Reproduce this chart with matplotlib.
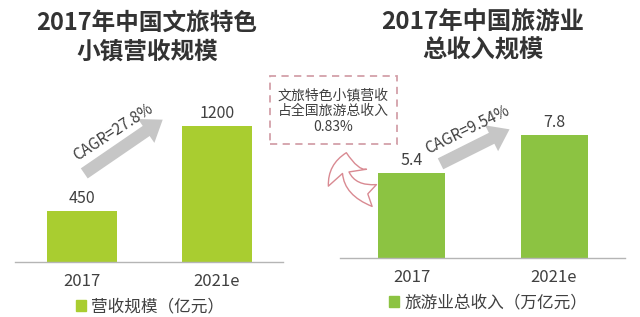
import matplotlib
matplotlib.use('Agg')
import matplotlib.pyplot as plt
from matplotlib.patches import Patch, Rectangle, FancyArrowPatch

plt.rcParams['font.family'] = ['Noto Sans CJK SC', 'DejaVu Sans']

# 数据
years = ['2017', '2021e']
town_rev = [450, 1200]          # 文旅特色小镇营收规模 (亿元)
tour_rev = [5.4, 7.8]           # 旅游业总收入 (万亿元)
town_lbl = ['450', '1200']
tour_lbl = ['5.4', '7.8']
title_l = '2017年中国文旅特色\n小镇营收规模'
title_r = '2017年中国旅游业\n总收入规模'
legend_l = '营收规模（亿元）'
legend_r = '旅游业总收入（万亿元）'
cagr_l = 'CAGR=27.8%'
cagr_r = 'CAGR=9.54%'
note = '文旅特色小镇营收\n占全国旅游总收入\n0.83%'

W, H = 640, 317
c_l = '#a9cd30'
c_r = '#8cc342'
txt = '#404040'
arrow_gray = '#c6c6c6'

fig = plt.figure(figsize=(W / 100, H / 100), dpi=100)
fig.patch.set_facecolor('white')

ax1 = fig.add_axes([15 / W, (H - 262) / H, 268 / W, 200 / H])
ax2 = fig.add_axes([340 / W, (H - 258) / H, 285 / W, 200 / H])

def style(ax):
    for s in ['top', 'right', 'left']:
        ax.spines[s].set_visible(False)
    ax.spines['bottom'].set_color('#b5b5b5')
    ax.spines['bottom'].set_linewidth(1.0)
    ax.set_yticks([])
    ax.tick_params(axis='x', length=0, pad=8, labelsize=12, labelcolor=txt)
    ax.set_facecolor('none')

# 左图
x = range(len(years))
ax1.bar(x, town_rev, width=0.52, color=c_l)
ax1.set_xlim(-0.496, 1.489)
ax1.set_ylim(0, 1765)
ax1.set_xticks(list(x), years)
style(ax1)
for i, v in enumerate(town_rev):
    ax1.annotate(town_lbl[i], (i, v), xytext=(0, 3), textcoords='offset points',
                 ha='center', va='bottom', fontsize=11.5, color=txt)
ax1.annotate('', xy=(0.615, 1270), xytext=(0.0, 768),
             arrowprops=dict(arrowstyle='simple,head_width=1.3,head_length=0.9,tail_width=0.55',
                             mutation_scale=16, fc=arrow_gray, ec='none'))
ax1.text(0.23, 1147, cagr_l, rotation=33, ha='center', va='center',
         rotation_mode='anchor', fontsize=11, color=txt)
ax1.legend(handles=[Patch(color=c_l, label=legend_l)], loc='center',
           bbox_to_anchor=(150 / W, 1 - 307 / H), bbox_transform=fig.transFigure,
           frameon=False, fontsize=12, handlelength=0.6, handleheight=0.6,
           handletextpad=0.3, labelcolor=txt)

# 右图
ax2.bar(x, tour_rev, width=0.47, color=c_r)
ax2.set_xlim(-0.502, 1.498)
ax2.set_ylim(0, 12.7)
ax2.set_xticks(list(x), years)
style(ax2)
for i, v in enumerate(tour_rev):
    ax2.annotate(tour_lbl[i], (i, v), xytext=(0, 3), textcoords='offset points',
                 ha='center', va='bottom', fontsize=11.5, color=txt)
ax2.annotate('', xy=(0.705, 8.25), xytext=(0.186, 5.9),
             arrowprops=dict(arrowstyle='simple,head_width=1.3,head_length=0.9,tail_width=0.55',
                             mutation_scale=16, fc=arrow_gray, ec='none'))
ax2.text(0.39, 8.13, cagr_r, rotation=26, ha='center', va='center',
         rotation_mode='anchor', fontsize=11, color=txt)
ax2.legend(handles=[Patch(color=c_r, label=legend_r)], loc='center',
           bbox_to_anchor=(488 / W, 1 - 303 / H), bbox_transform=fig.transFigure,
           frameon=False, fontsize=12, handlelength=0.6, handleheight=0.6,
           handletextpad=0.3, labelcolor=txt)

# 标题
fig.text(147 / W, 1 - 37 / H, title_l, ha='center', va='center', fontsize=17,
         fontweight='bold', color='#333333', linespacing=1.25)
fig.text(483 / W, 1 - 37 / H, title_r, ha='center', va='center', fontsize=17.5,
         fontweight='bold', color='#333333', linespacing=1.2)

# 虚线框
fig.patches.append(Rectangle((270 / W, 1 - 144 / H), 127 / W, 68 / H,
                             transform=fig.transFigure, fill=False,
                             ec='#d3a0a9', lw=1.3, ls=(0, (4, 3))))
fig.text(333 / W, 1 - 111 / H, note, ha='center', va='center', fontsize=10,
         color=txt, linespacing=1.15)

# 弯箭头
fig.patches.append(FancyArrowPatch((377 / W, 1 - 196 / H), (347 / W, 1 - 150 / H),
                                   transform=fig.transFigure,
                                   connectionstyle='arc3,rad=-0.55',
                                   arrowstyle='fancy,head_width=1.5,head_length=0.9,tail_width=0.8',
                                   mutation_scale=20, fc='white', ec='#d98a92', lw=1.0))

fig.savefig('out.png', dpi=100)
